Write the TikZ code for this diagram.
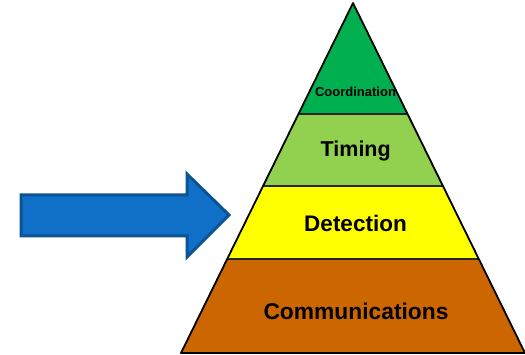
\documentclass[tikz,border=0pt]{standalone}
\usepackage{fontspec}
\setmainfont{Liberation Sans}
\usetikzlibrary{calc}
\definecolor{topgreen}{HTML}{00B050}
\definecolor{lightgreen}{HTML}{92D050}
\definecolor{layeryellow}{HTML}{FFFF00}
\definecolor{layerorange}{HTML}{CC6600}
\definecolor{arrowfill}{HTML}{1070C8}
\definecolor{arrowline}{HTML}{0B5394}
\tikzset{
  layerlabel/.style={anchor=base, font=\bfseries, text=black, inner sep=0pt},
  divider/.style={line width=1.1pt, draw=black!85},
}
\begin{document}
\begin{tikzpicture}[x=1pt,y=-1pt]
  \useasboundingbox (0,0) rectangle (525,355);
  % pyramid corners
  \coordinate (apex) at (353,3);
  \coordinate (bl) at (181,353);
  \coordinate (br) at (525,353);
  % layer bands
  \begin{scope}
    \clip (apex) -- (br) -- (bl) -- cycle;
    \fill[topgreen]    (150,0)   rectangle (530,114);
    \fill[lightgreen]  (150,114) rectangle (530,186);
    \fill[layeryellow] (150,186) rectangle (530,259);
    \fill[layerorange] (150,259) rectangle (530,360);
    \draw[divider] (150,114) -- (530,114);
    \draw[divider] (150,186) -- (530,186);
    \draw[divider] (150,259) -- (530,259);
  \end{scope}
  \draw[line width=1.8pt, line join=round] (apex) -- (br) -- (bl) -- cycle;
  % labels
  \node[layerlabel, font=\bfseries\fontsize{13}{13}\selectfont] (coord) at (355.5,96.5) {Coordination};
  \node[layerlabel, font=\bfseries\fontsize{21.5}{22}\selectfont] (timing) at (355.7,156.5) {Timing};
  \node[layerlabel, font=\bfseries\fontsize{22.5}{23}\selectfont] (detect) at (355.5,231.5) {Detection};
  \node[layerlabel, font=\bfseries\fontsize{22.8}{23}\selectfont] (comms) at (356,319.3) {Communications};
  % block arrow pointing at the pyramid
  \draw[fill=arrowfill, draw=arrowline, line width=3pt, line join=miter]
    (21,195) -- (187,195) -- (187,174) -- (229,215) -- (187,257) -- (187,236) -- (21,236) -- cycle;
\end{tikzpicture}
\end{document}
